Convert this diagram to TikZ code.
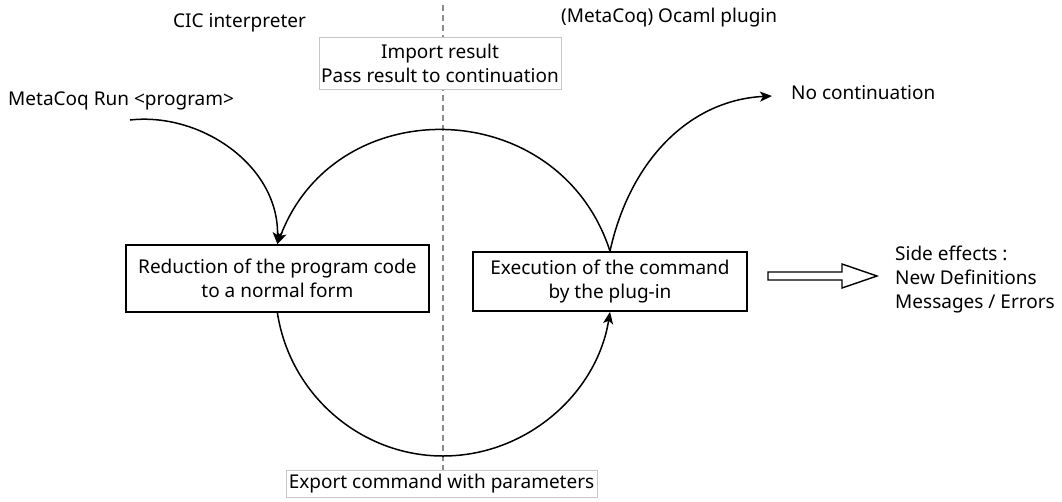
\documentclass[tikz,border=0pt]{standalone}
\usepackage{fontspec}
\setmainfont{Noto Sans}
\usetikzlibrary{arrows.meta}
\begin{document}
\begin{tikzpicture}[x=1pt,y=-1pt,
  font=\fontsize{19}{24}\selectfont,
  txt/.style={inner sep=0pt},
  procbox/.style={draw=black, line width=1.7pt, align=center, inner sep=0pt},
  notebox/.style={draw=black!22, line width=1pt, fill=white, align=center, inner sep=0pt},
  flow/.style={line width=1.5pt, -{Stealth[length=12pt,width=10pt,inset=3pt]}},
  divider/.style={draw=black!45, line width=1.3pt, dash pattern=on 6pt off 4pt},
  hollow/.style={draw=black, line width=1.4pt, fill=white, line join=miter}]
\useasboundingbox (0,0) rectangle (1062,501);
\coordinate (divtop) at (443,5);
\coordinate (divbot) at (443,470);
\coordinate (runstart) at (130,120);
\coordinate (nctip) at (772,96);
\coordinate (bottommid) at (443,456);

\draw[divider] (divtop) -- (divbot);

\node[procbox, minimum width=303pt, minimum height=67pt] (left) at (277.4,278.5) {Reduction of the program code\\to a normal form};
\node[procbox, minimum width=274pt, minimum height=59pt] (right) at (610,281.5) {Execution of the command\\by the plug-in};
\node[notebox, minimum width=242pt, minimum height=52pt] (import) at (440,63) {Import result\\Pass result to continuation};
\node[notebox, minimum width=311pt, minimum height=27pt] (export) at (441.5,483.5) {Export command with parameters};

\node[txt, anchor=base west] (cic) at (173,27) {CIC interpreter};
\node[txt, anchor=base west] (ocaml) at (561,22) {(MetaCoq) Ocaml plugin};
\node[txt, anchor=base west] (run) at (8,105) {MetaCoq Run <program>};
\node[txt, anchor=base west] (nocont) at (791,99) {No continuation};
\node[txt, anchor=base west, align=left] (side) at (895,308) {Side effects :\\New Definitions\\Messages / Errors};

\draw[flow] (runstart) .. controls (200,112) and (279,165) .. (left.north);
\draw[flow] (right.north) .. controls (559,94) and (336,89) .. (left.north);
\draw[flow] (left.south) .. controls (290,395) and (361,456) .. (bottommid) .. controls (527,456) and (597,393) .. (right.south);
\draw[flow] (right.north) .. controls (630,160) and (690,100) .. (nctip);

\draw[hollow] (768,272) -- (842,272) -- (842,264) -- (877,276) -- (842,288) -- (842,280) -- (768,280) -- cycle;
\end{tikzpicture}
\end{document}
